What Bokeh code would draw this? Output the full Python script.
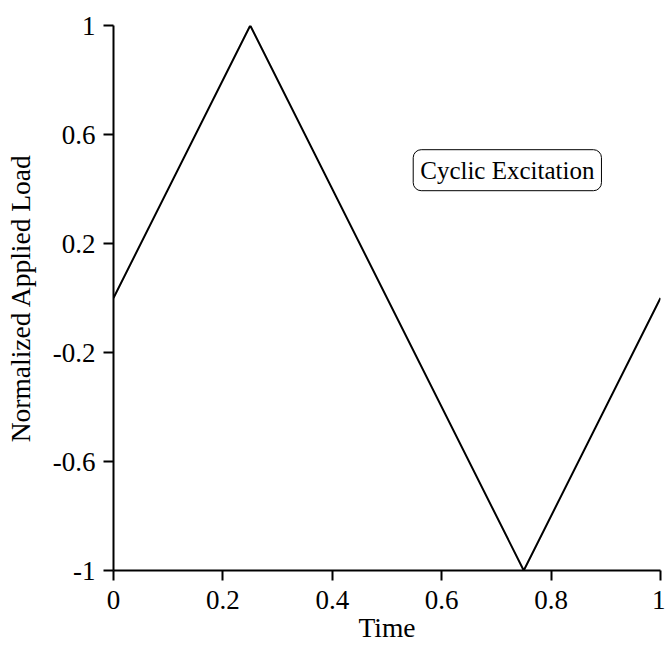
from bokeh.plotting import figure
from bokeh.models import Label, FixedTicker, Range1d
from bokeh.embed import file_html
from bokeh.resources import INLINE

time = [0.0, 0.25, 0.75, 1.0]
load = [0.0, 1.0, -1.0, 0.0]
x_ticks = [0, 0.2, 0.4, 0.6, 0.8, 1]
x_tick_labels = ["0", "0.2", "0.4", "0.6", "0.8", "1"]
y_ticks = [-1, -0.6, -0.2, 0.2, 0.6, 1]
y_tick_labels = ["-1", "-0.6", "-0.2", "0.2", "0.6", "1"]

FONT = "Liberation Serif"

p = figure(width=665, height=645, output_backend="svg", toolbar_location=None,
           x_range=Range1d(0, 1), y_range=Range1d(-1, 1),
           min_border_left=113, min_border_right=5, min_border_top=25, min_border_bottom=74)
p.outline_line_color = None
p.grid.visible = False
p.background_fill_color = "white"
p.border_fill_color = "white"

p.line(time, load, line_color="black", line_width=2)

for ax, ticks, labels in ((p.xaxis[0], x_ticks, x_tick_labels), (p.yaxis[0], y_ticks, y_tick_labels)):
    ax.ticker = FixedTicker(ticks=ticks)
    ax.major_label_overrides = {t: l for t, l in zip(ticks, labels)}
    ax.minor_tick_line_color = None
    ax.major_tick_in = 0
    ax.major_tick_out = 10
    ax.axis_line_width = 2
    ax.major_tick_line_width = 2
    ax.axis_line_color = "black"
    ax.major_tick_line_color = "black"
    ax.major_label_text_font = FONT
    ax.major_label_text_font_size = "27px"
    ax.major_label_text_color = "black"
    ax.axis_label_text_font = FONT
    ax.axis_label_text_font_size = "27.5px"
    ax.axis_label_text_font_style = "normal"
    ax.axis_label_text_color = "black"

p.xaxis.axis_label = "Time"
p.yaxis.axis_label = "Normalized Applied Load"
p.xaxis.major_label_standoff = 10
p.yaxis.major_label_standoff = 8
p.xaxis.axis_label_standoff = 0
p.yaxis.axis_label_standoff = 14

lbl = Label(x=0.72, y=0.469, text="Cyclic Excitation", text_align="center", text_baseline="middle",
            text_font=FONT, text_font_size="25px", text_color="black",
            border_line_color="black", border_line_width=1, background_fill_color="white",
            padding=7, border_radius=8)
p.add_layout(lbl)

open("out.html", "w").write(file_html(p, INLINE))
